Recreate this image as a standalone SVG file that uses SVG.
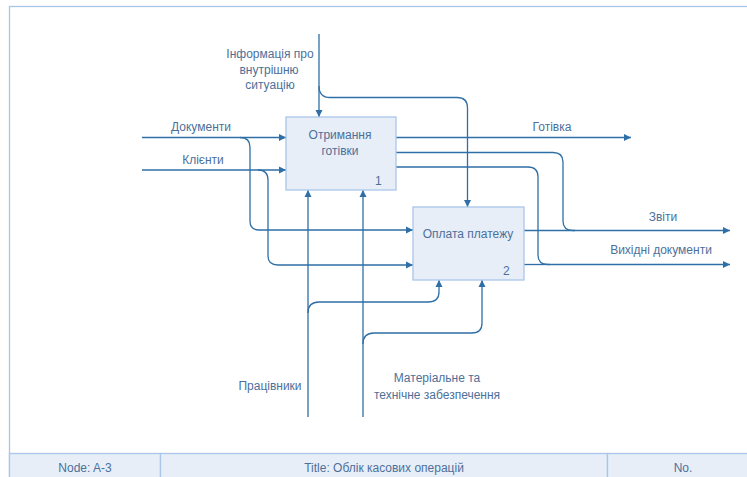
<svg xmlns="http://www.w3.org/2000/svg" width="747" height="477" viewBox="0 0 747 477">
  <defs>
    <marker id="arr" markerWidth="8" markerHeight="8" refX="7" refY="4" orient="auto" markerUnits="userSpaceOnUse">
      <path d="M0,0.5 L7,4 L0,7.5 Z" fill="#2f6fa6"/>
    </marker>
    <style>
      text { font-family: "Liberation Sans", Arial, sans-serif; font-size: 12px; fill: #4d709a; }
      .lbl { text-anchor: middle; }
      .box { fill: #e7eef8; stroke: #a9c6ea; stroke-width: 1.3; }
      .wire { fill: none; stroke: #2f6fa6; stroke-width: 1.3; }
      .frame { fill: none; stroke: #a9c6ea; stroke-width: 1.3; }
      .cell { fill: #e7eef8; stroke: #a9c6ea; stroke-width: 1.3; }
    </style>
  </defs>

  <rect width="747" height="477" fill="#ffffff"/>

  <!-- drawing frame -->
  <rect class="frame" x="9.5" y="6.5" width="745" height="480"/>

  <!-- title block -->
  <g id="title-block">
    <rect class="cell" x="9.5" y="453.5" width="151" height="30"/>
    <rect class="cell" x="160.5" y="453.5" width="447" height="30"/>
    <rect class="cell" x="607.5" y="453.5" width="147" height="30"/>
    <text class="lbl" x="85" y="472">Node: A-3</text>
    <text class="lbl" x="384" y="472">Title: Облік касових операцій</text>
    <text class="lbl" x="683" y="472">No.</text>
  </g>

  <!-- connectors -->
  <g id="connectors">
    <!-- control: information about internal situation -->
    <path class="wire" d="M319,34 V117" marker-end="url(#arr)"/>
    <path class="wire" d="M319,86 Q319,97.5 330,97.5 H457 Q467.5,97.5 467.5,108 V207" marker-end="url(#arr)"/>

    <!-- input: documents -->
    <path class="wire" d="M142,137.5 H286" marker-end="url(#arr)"/>
    <path class="wire" d="M240,137.5 Q250,137.5 250,147 V221 Q250,230 259,230 H413" marker-end="url(#arr)"/>

    <!-- input: clients -->
    <path class="wire" d="M142,170 H286" marker-end="url(#arr)"/>
    <path class="wire" d="M258,170 Q268,170 268,180 V256 Q268,265 278,265 H413" marker-end="url(#arr)"/>

    <!-- outputs of box 1 -->
    <path class="wire" d="M396,137.5 H631" marker-end="url(#arr)"/>
    <path class="wire" d="M396,152.5 H553 Q563,152.5 563,162 V221 Q563,230.5 573,230.5 H730" marker-end="url(#arr)"/>
    <path class="wire" d="M396,167 H528 Q538,167 538,177 V255 Q538,264.5 548,264.5 H730" marker-end="url(#arr)"/>

    <!-- outputs of box 2 -->
    <path class="wire" d="M524,230.5 H575"/>
    <path class="wire" d="M524,264.5 H550"/>

    <!-- mechanism: workers -->
    <path class="wire" d="M308,417 V190" marker-end="url(#arr)"/>
    <path class="wire" d="M308,313 Q308,302 319,302 H428 Q439,302 439,292 V280" marker-end="url(#arr)"/>

    <!-- mechanism: material and technical support -->
    <path class="wire" d="M363,417 V190" marker-end="url(#arr)"/>
    <path class="wire" d="M363,344 Q363,333 374,333 H472 Q482,333 482,323 V280" marker-end="url(#arr)"/>
  </g>

  <!-- activity boxes -->
  <g id="node-1">
    <rect class="box" x="286" y="117" width="110" height="73"/>
    <text class="lbl" x="340" y="139">Отримання</text>
    <text class="lbl" x="340" y="155">готівки</text>
    <text x="375" y="185">1</text>
  </g>

  <g id="node-2">
    <rect class="box" x="413" y="207" width="111" height="73"/>
    <text class="lbl" x="468" y="238">Оплата платежу</text>
    <text x="503" y="275">2</text>
  </g>

  <!-- arrow labels -->
  <g id="labels">
    <text class="lbl" x="270" y="58">Інформація про</text>
    <text class="lbl" x="269" y="74">внутрішню</text>
    <text class="lbl" x="270" y="89">ситуацію</text>
    <text class="lbl" x="201" y="131">Документи</text>
    <text class="lbl" x="203" y="164">Клієнти</text>
    <text class="lbl" x="552" y="131">Готівка</text>
    <text class="lbl" x="663" y="221">Звіти</text>
    <text class="lbl" x="661" y="254">Вихідні документи</text>
    <text class="lbl" x="270" y="390">Працівники</text>
    <text class="lbl" x="437" y="382">Матеріальне та</text>
    <text class="lbl" x="437" y="399">технічне забезпечення</text>
  </g>
</svg>
